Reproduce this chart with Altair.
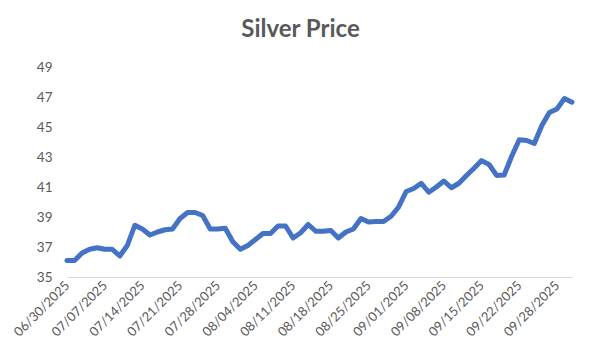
import altair as alt
import pandas as pd
import json

# Silver price, one value per trading day
prices = [
    36.1, 36.1, 36.6, 36.85, 36.95, 36.85, 36.85, 36.4, 37.1, 38.45,
    38.2, 37.8, 38.0, 38.15, 38.2, 38.9, 39.3, 39.3, 39.1, 38.2,
    38.2, 38.25, 37.35, 36.85, 37.1, 37.5, 37.9, 37.9, 38.4, 38.4,
    37.6, 37.95, 38.5, 38.05, 38.05, 38.1, 37.6, 38.0, 38.2, 38.9,
    38.67, 38.7, 38.7, 39.05, 39.67, 40.7, 40.9, 41.25, 40.65, 41.0,
    41.4, 40.95, 41.25, 41.77, 42.25, 42.76, 42.5, 41.77, 41.8, 43.05,
    44.15, 44.1, 43.9, 45.1, 45.97, 46.2, 46.9, 46.65,
]

# Category-axis labels: every 5th point
tick_labels = [
    "06/30/2025", "07/07/2025", "07/14/2025", "07/21/2025", "07/28/2025",
    "08/04/2025", "08/11/2025", "08/18/2025", "08/25/2025", "09/01/2025",
    "09/08/2025", "09/15/2025", "09/22/2025", "09/28/2025",
]
tick_every = 5
y_ticks = [35, 37, 39, 41, 43, 45, 47, 49]

df = pd.DataFrame({"idx": list(range(len(prices))), "price": prices})
tick_positions = [i * tick_every for i in range(len(tick_labels))]
label_expr = json.dumps(tick_labels) + "[round(datum.value / %d)]" % tick_every

FONT = "Lato"
GREY = "#595959"

line = alt.Chart(df).mark_line(
    color="#4472C4", strokeWidth=5, strokeJoin="round", strokeCap="round"
).encode(
    x=alt.X(
        "idx:Q",
        scale=alt.Scale(domain=[0, len(prices) - 1], nice=False, zero=False),
        axis=alt.Axis(
            values=tick_positions,
            labelExpr=label_expr,
            labelAngle=-45,
            labelAlign="right",
            labelBaseline="middle",
            labelPadding=6,
            labelFont=FONT,
            labelFontSize=13,
            labelColor=GREY,
            labelOverlap=False,
            labelBound=False,
            ticks=False,
            grid=False,
            domainColor="#d9d9d9",
            domainWidth=1,
            title=None,
        ),
    ),
    y=alt.Y(
        "price:Q",
        scale=alt.Scale(domain=[35, 49], nice=False, zero=False),
        axis=alt.Axis(
            values=y_ticks,
            labelFont=FONT,
            labelFontSize=13.5,
            labelColor=GREY,
            labelPadding=15,
            ticks=False,
            grid=False,
            domain=False,
            title=None,
        ),
    ),
)

chart = line.properties(
    width=505,
    height=210,
    title=alt.TitleParams(
        "Silver Price",
        font=FONT,
        fontSize=24,
        fontWeight="bold",
        color=GREY,
        anchor="middle",
        dx=-19,
        baseline="alphabetic",
        offset=-1,
    ),
    autosize=alt.AutoSizeParams(type="none"),
    padding={"left": 59, "top": 59, "right": 20, "bottom": 70},
    background="white",
).configure_view(strokeWidth=0, stroke="transparent")

chart.save("out.html", embed_options={"renderer": "svg", "actions": False})
